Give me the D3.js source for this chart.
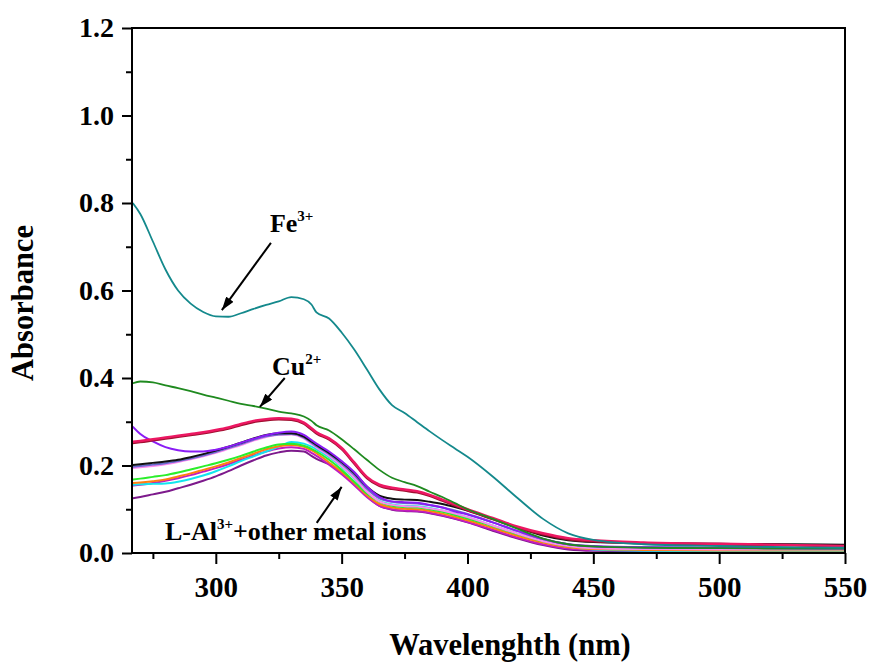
<!DOCTYPE html>
<html>
<head>
<meta charset="utf-8">
<script src="https://cdn.jsdelivr.net/npm/d3@7"></script>
<style>
  body { margin: 0; background: #fff; }
  text { font-family: "Liberation Serif", "Times New Roman", serif; font-weight: bold; }
</style>
</head>
<body>
<div id="chart"></div>
<script>
// wavelengths (nm) shared by every spectrum
const wavelengths = [267, 270, 275, 280, 285, 290, 295, 300, 305, 310, 315, 320, 325, 330, 335, 338, 340, 345, 350, 355, 360, 365, 370, 375, 380, 385, 390, 395, 400, 410, 420, 430, 440, 450, 470, 500, 530, 550];

const fe = [0.800, 0.775, 0.712, 0.648, 0.600, 0.570, 0.551, 0.541, 0.540, 0.548, 0.558, 0.567, 0.575, 0.585, 0.580, 0.568, 0.550, 0.536, 0.504, 0.465, 0.420, 0.374, 0.338, 0.320, 0.299, 0.278, 0.258, 0.239, 0.220, 0.175, 0.125, 0.078, 0.045, 0.030, 0.020, 0.016, 0.013, 0.012];
const cu = [0.388, 0.392, 0.390, 0.383, 0.377, 0.370, 0.362, 0.355, 0.348, 0.341, 0.336, 0.330, 0.323, 0.319, 0.312, 0.302, 0.292, 0.280, 0.260, 0.237, 0.213, 0.190, 0.172, 0.162, 0.153, 0.140, 0.128, 0.114, 0.100, 0.078, 0.055, 0.033, 0.020, 0.015, 0.012, 0.011, 0.010, 0.010];
const crimson = [0.254, 0.256, 0.260, 0.264, 0.268, 0.272, 0.276, 0.281, 0.287, 0.295, 0.302, 0.306, 0.308, 0.307, 0.298, 0.285, 0.276, 0.262, 0.240, 0.207, 0.174, 0.156, 0.149, 0.145, 0.141, 0.133, 0.122, 0.111, 0.100, 0.080, 0.060, 0.045, 0.034, 0.029, 0.024, 0.021, 0.018, 0.016];
const darkRed = [0.251, 0.253, 0.257, 0.261, 0.265, 0.269, 0.273, 0.278, 0.284, 0.292, 0.299, 0.303, 0.305, 0.304, 0.295, 0.282, 0.273, 0.259, 0.237, 0.204, 0.171, 0.153, 0.146, 0.142, 0.138, 0.130, 0.119, 0.108, 0.097, 0.077, 0.057, 0.042, 0.031, 0.026, 0.022, 0.019, 0.017, 0.015];
const violet = [0.289, 0.272, 0.255, 0.242, 0.235, 0.232, 0.232, 0.236, 0.243, 0.252, 0.261, 0.269, 0.275, 0.278, 0.270, 0.258, 0.250, 0.232, 0.210, 0.185, 0.152, 0.128, 0.118, 0.116, 0.115, 0.110, 0.104, 0.095, 0.088, 0.070, 0.050, 0.032, 0.020, 0.016, 0.013, 0.012, 0.011, 0.010];
const black = [0.201, 0.203, 0.206, 0.209, 0.213, 0.219, 0.226, 0.234, 0.243, 0.252, 0.262, 0.270, 0.274, 0.274, 0.266, 0.255, 0.247, 0.229, 0.208, 0.183, 0.152, 0.131, 0.124, 0.122, 0.121, 0.117, 0.112, 0.105, 0.097, 0.078, 0.058, 0.040, 0.029, 0.025, 0.023, 0.021, 0.020, 0.019];
const slate = [0.197, 0.199, 0.202, 0.205, 0.210, 0.216, 0.223, 0.231, 0.240, 0.249, 0.259, 0.267, 0.271, 0.272, 0.264, 0.252, 0.244, 0.226, 0.204, 0.178, 0.147, 0.125, 0.117, 0.114, 0.113, 0.109, 0.104, 0.097, 0.089, 0.070, 0.050, 0.032, 0.020, 0.015, 0.013, 0.012, 0.011, 0.011];
const pink = [0.194, 0.196, 0.199, 0.203, 0.208, 0.214, 0.221, 0.229, 0.238, 0.247, 0.257, 0.265, 0.270, 0.271, 0.262, 0.249, 0.241, 0.222, 0.199, 0.172, 0.140, 0.118, 0.110, 0.107, 0.106, 0.102, 0.097, 0.090, 0.082, 0.063, 0.044, 0.027, 0.016, 0.011, 0.009, 0.008, 0.008, 0.008];
const lime = [0.168, 0.170, 0.174, 0.178, 0.184, 0.191, 0.198, 0.205, 0.213, 0.222, 0.232, 0.241, 0.248, 0.250, 0.245, 0.238, 0.232, 0.213, 0.190, 0.163, 0.136, 0.117, 0.108, 0.105, 0.104, 0.100, 0.094, 0.087, 0.079, 0.061, 0.043, 0.027, 0.016, 0.012, 0.010, 0.009, 0.008, 0.008];
const orange = [0.160, 0.161, 0.164, 0.168, 0.175, 0.182, 0.190, 0.198, 0.207, 0.217, 0.227, 0.237, 0.244, 0.247, 0.243, 0.235, 0.228, 0.207, 0.185, 0.160, 0.132, 0.112, 0.104, 0.101, 0.100, 0.096, 0.090, 0.083, 0.075, 0.057, 0.039, 0.024, 0.013, 0.009, 0.007, 0.006, 0.006, 0.006];
const cyan = [0.156, 0.157, 0.158, 0.159, 0.163, 0.169, 0.177, 0.187, 0.198, 0.210, 0.221, 0.232, 0.243, 0.254, 0.250, 0.243, 0.237, 0.219, 0.197, 0.170, 0.138, 0.119, 0.111, 0.108, 0.107, 0.103, 0.097, 0.090, 0.082, 0.063, 0.044, 0.027, 0.014, 0.008, 0.005, 0.004, 0.003, 0.003];
const magenta = [0.154, 0.156, 0.160, 0.165, 0.171, 0.178, 0.186, 0.194, 0.203, 0.213, 0.223, 0.232, 0.239, 0.242, 0.238, 0.229, 0.222, 0.202, 0.180, 0.155, 0.128, 0.108, 0.100, 0.097, 0.096, 0.092, 0.086, 0.079, 0.071, 0.053, 0.035, 0.020, 0.010, 0.007, 0.006, 0.006, 0.005, 0.005];
const purple = [0.125, 0.128, 0.134, 0.140, 0.148, 0.156, 0.165, 0.175, 0.187, 0.200, 0.212, 0.223, 0.230, 0.234, 0.232, 0.222, 0.215, 0.203, 0.182, 0.158, 0.130, 0.108, 0.099, 0.096, 0.095, 0.091, 0.085, 0.078, 0.070, 0.051, 0.033, 0.018, 0.008, 0.005, 0.004, 0.004, 0.004, 0.004];

// drawn bottom to top
const series = [
  { values: purple, color: "#7d1a8c", width: 2 },
  { values: magenta, color: "#c21cc2", width: 2 },
  { values: cyan, color: "#12e6ee", width: 2 },
  { values: orange, color: "#ff7f10", width: 2 },
  { values: lime, color: "#2bee2b", width: 2 },
  { values: pink, color: "#ff88f0", width: 2 },
  { values: slate, color: "#6a6acd", width: 2 },
  { values: black, color: "#111111", width: 2 },
  { values: violet, color: "#8a1cf5", width: 2 },
  { values: darkRed, color: "#a01030", width: 2 },
  { values: crimson, color: "#ec1762", width: 2.5 },
  { values: cu, color: "#1f8a1f", width: 1.8 },
  { values: fe, color: "#14898c", width: 1.8 },
];

const yTicks = [0, 0.2, 0.4, 0.6, 0.8, 1.0, 1.2];
const xTicks = [300, 350, 400, 450, 500, 550];

const width = 872, height = 664;
const margin = { top: 28, right: 27, bottom: 111, left: 132 };

const svg = d3.select("#chart").append("svg")
  .attr("width", width)
  .attr("height", height);

const x = d3.scaleLinear().domain([266.7, 550]).range([margin.left, width - margin.right]);
const y = d3.scaleLinear().domain([0, 1.2]).range([height - margin.bottom, margin.top]);

// spectra
const line = d3.line()
  .x((d) => x(d[0]))
  .y((d) => y(d[1]))
  .curve(d3.curveMonotoneX);

svg.append("g")
  .selectAll("path")
  .data(series)
  .join("path")
  .attr("fill", "none")
  .attr("stroke", (d) => d.color)
  .attr("stroke-width", (d) => d.width)
  .attr("stroke-linejoin", "round")
  .attr("d", (d) => line(d3.zip(wavelengths, d.values)));

// frame
svg.append("rect")
  .attr("x", x.range()[0])
  .attr("y", y.range()[1])
  .attr("width", x.range()[1] - x.range()[0])
  .attr("height", y.range()[0] - y.range()[1])
  .attr("fill", "none")
  .attr("stroke", "#000")
  .attr("stroke-width", 2);

// y axis, major + minor ticks outward
const yAxis = svg.append("g").attr("transform", `translate(${margin.left},0)`);
yAxis.call(d3.axisLeft(y).tickValues(d3.range(0.1, 1.2, 0.2)).tickSize(6).tickFormat(""))
  .call((g) => g.select(".domain").remove());
yAxis.append("g")
  .call(d3.axisLeft(y).tickValues(yTicks).tickSize(10).tickPadding(8).tickFormat(d3.format(".1f")))
  .call((g) => g.select(".domain").remove());
yAxis.selectAll("line").attr("stroke-width", 2);
yAxis.selectAll("text").attr("font-size", 28).attr("fill", "#000")
  .style("font-family", "'Liberation Serif', serif").style("font-weight", "bold");

// x axis
const xAxis = svg.append("g").attr("transform", `translate(0,${height - margin.bottom})`);
xAxis.call(d3.axisBottom(x).tickValues(d3.range(275, 550, 50)).tickSize(6).tickFormat(""))
  .call((g) => g.select(".domain").remove());
xAxis.append("g")
  .call(d3.axisBottom(x).tickValues(xTicks).tickSize(11).tickPadding(12))
  .call((g) => g.select(".domain").remove());
xAxis.selectAll("line").attr("stroke-width", 2);
xAxis.selectAll("text").attr("font-size", 29).attr("fill", "#000")
  .style("font-family", "'Liberation Serif', serif").style("font-weight", "bold");

// axis titles
svg.append("text")
  .attr("x", 510)
  .attr("y", 655)
  .attr("text-anchor", "middle")
  .attr("font-size", 30.5)
  .text("Wavelenghth (nm)");

svg.append("text")
  .attr("transform", "translate(33,303) rotate(-90)")
  .attr("text-anchor", "middle")
  .attr("font-size", 30.5)
  .text("Absorbance");

// arrows + labels
svg.append("defs").append("marker")
  .attr("id", "head")
  .attr("viewBox", "0 0 12 8")
  .attr("refX", 12)
  .attr("refY", 4)
  .attr("markerWidth", 14)
  .attr("markerHeight", 9)
  .attr("markerUnits", "userSpaceOnUse")
  .attr("orient", "auto")
  .append("path")
  .attr("d", "M0,0 L12,4 L0,8 Z")
  .attr("fill", "#000");

const arrows = [
  { from: [321.9, 0.709], to: [302.4, 0.555] },
  { from: [327.4, 0.400], to: [317.5, 0.334] },
  { from: [340.1, 0.069], to: [350.0, 0.151] },
];
svg.append("g")
  .selectAll("line")
  .data(arrows)
  .join("line")
  .attr("x1", (d) => x(d.from[0]))
  .attr("y1", (d) => y(d.from[1]))
  .attr("x2", (d) => x(d.to[0]))
  .attr("y2", (d) => y(d.to[1]))
  .attr("stroke", "#000")
  .attr("stroke-width", 2)
  .attr("marker-end", "url(#head)");

const labels = [
  { at: [321.5, 0.734], main: "Fe", sup: "3+", rest: "", size: 26 },
  { at: [322.3, 0.407], main: "Cu", sup: "2+", rest: "", size: 26 },
  { at: [279.8, 0.030], main: "L-Al", sup: "3+", rest: "+other metal ions", size: 26 },
];
labels.forEach((l) => {
  const t = svg.append("text")
    .attr("x", x(l.at[0]))
    .attr("y", y(l.at[1]))
    .attr("font-size", l.size);
  t.append("tspan").text(l.main);
  t.append("tspan").attr("dy", -11).attr("font-size", 15).text(l.sup);
  if (l.rest) t.append("tspan").attr("dy", 11).text(l.rest);
});
</script>
</body>
</html>
